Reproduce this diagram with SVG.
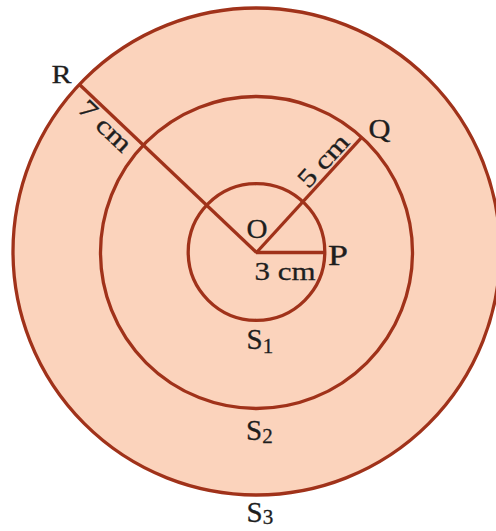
<svg xmlns="http://www.w3.org/2000/svg" width="496" height="531" viewBox="0 0 496 531">
  <style>
    .ring { fill: #FBD3BC; stroke: #A0321A; stroke-width: 3.3; }
    .rad { stroke: #A0321A; stroke-width: 3.3; fill: none; stroke-linecap: butt; }
    .lbl { font-family: "Liberation Serif", "Times New Roman", serif; fill: #1E1E1E; stroke: #1E1E1E; stroke-width: 0.3; }
  </style>
  <rect x="0" y="0" width="496" height="531" fill="#FFFFFF"/>
  <g id="circles">
    <circle id="S3-circle" class="ring" cx="256.5" cy="251.5" r="243.5"/>
    <circle id="S2-circle" class="ring" cx="256.5" cy="252.5" r="156"/>
    <circle id="S1-circle" class="ring" cx="256.5" cy="252" r="68.3"/>
  </g>
  <g id="radii">
    <line class="rad" x1="256.5" y1="252.5" x2="80" y2="85"/>
    <line class="rad" x1="256.5" y1="252.5" x2="361.7" y2="137.3"/>
    <line class="rad" x1="256" y1="252.5" x2="324.5" y2="252.5"/>
  </g>
  <g id="labels" class="lbl">
    <text x="51.5" y="83" font-size="26" textLength="20" lengthAdjust="spacingAndGlyphs">R</text>
    <text x="368.5" y="138" font-size="27" textLength="22" lengthAdjust="spacingAndGlyphs">Q</text>
    <text x="246.5" y="237.5" font-size="28" textLength="21" lengthAdjust="spacingAndGlyphs">O</text>
    <text x="328" y="265" font-size="29" textLength="20" lengthAdjust="spacingAndGlyphs">P</text>
    <text x="254.5" y="280" font-size="26" textLength="61" lengthAdjust="spacingAndGlyphs">3 cm</text>
    <text transform="translate(76.5,110.5) rotate(43.4)" font-size="26" textLength="63" lengthAdjust="spacingAndGlyphs">7 cm</text>
    <text transform="translate(308.3,189.6) rotate(-47.5)" font-size="26" textLength="63" lengthAdjust="spacingAndGlyphs">5 cm</text>
    <text x="246.5" y="349" font-size="29">S<tspan font-size="21" dy="4">1</tspan></text>
    <text x="246" y="440" font-size="29">S<tspan font-size="21" dy="3">2</tspan></text>
    <text x="246.5" y="522" font-size="29">S<tspan font-size="21" dy="2">3</tspan></text>
  </g>
</svg>
